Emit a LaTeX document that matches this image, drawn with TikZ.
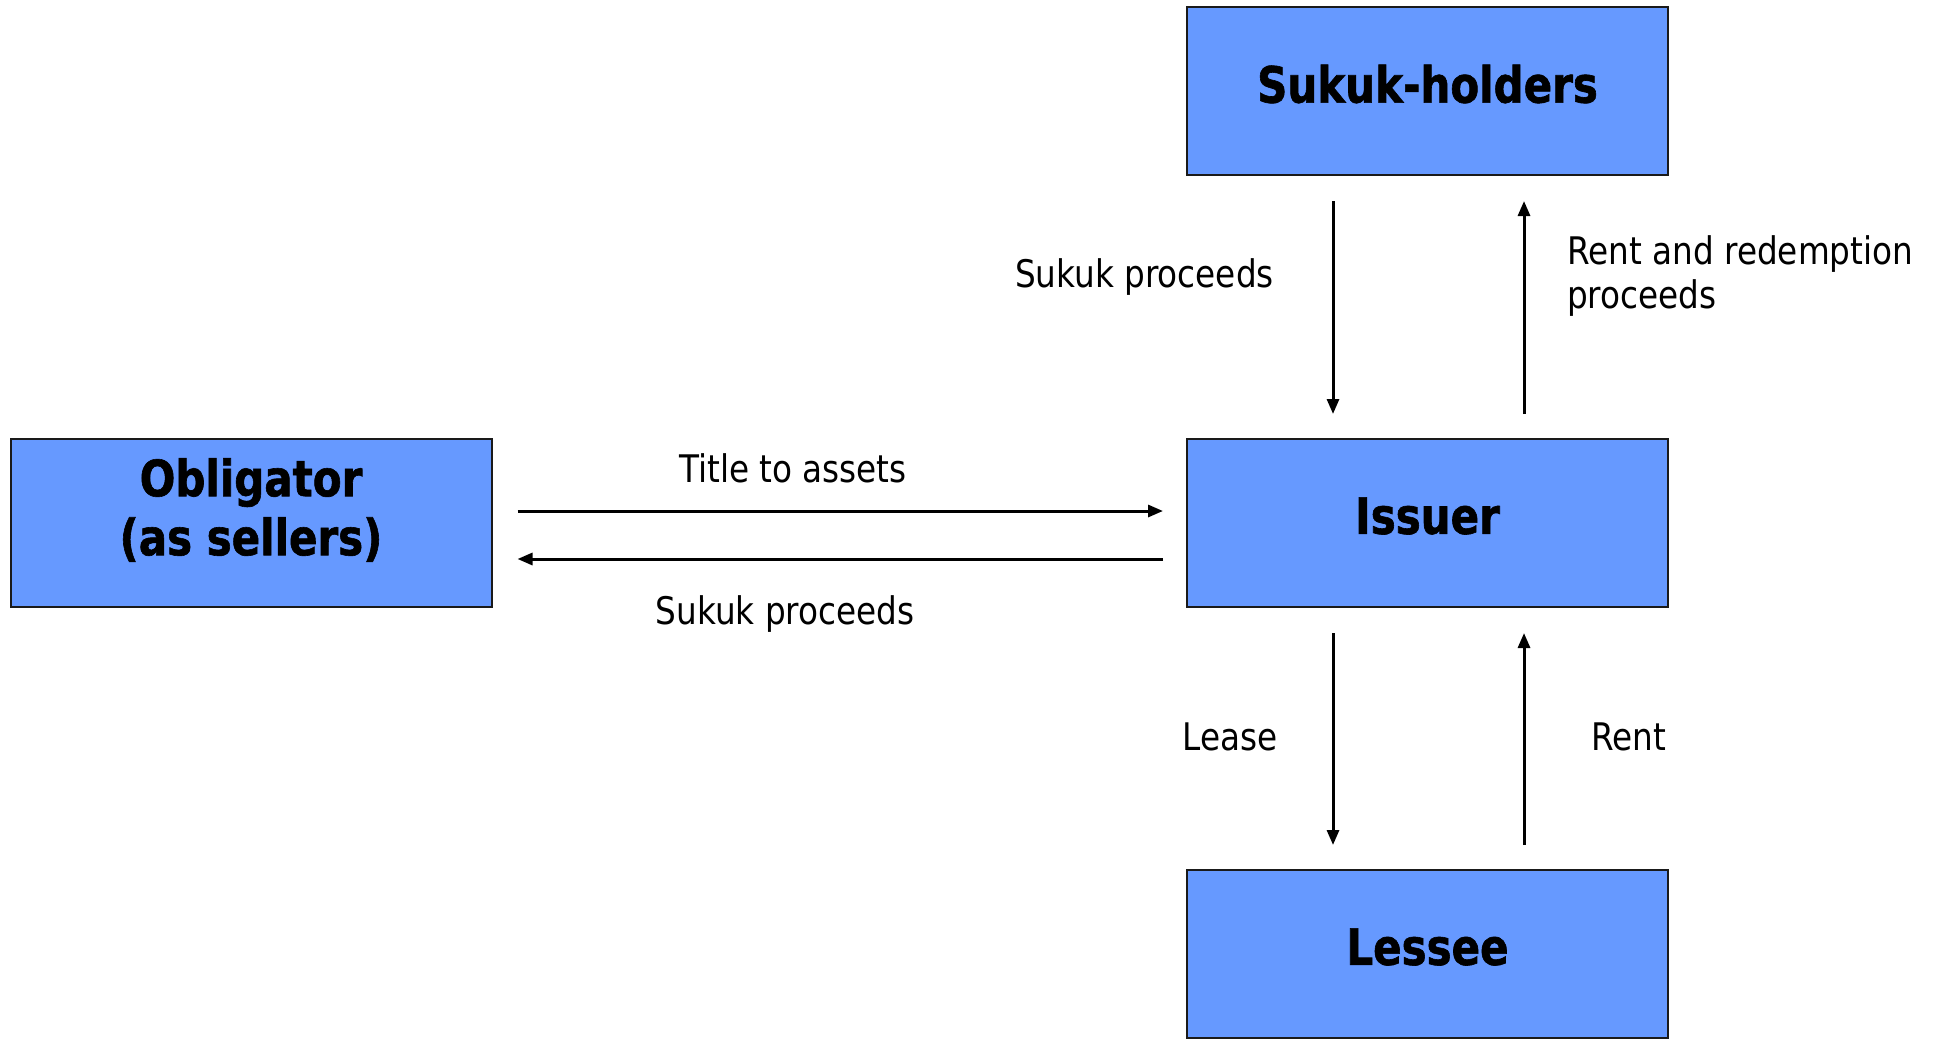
\documentclass[tikz,border=0pt]{standalone}
\usepackage{fontspec}
\usetikzlibrary{arrows.meta}
\newfontfamily\diagfont[FakeStretch=0.86]{DejaVu Sans}
\newfontfamily\boxfont[FakeStretch=0.84,FakeBold=1.2]{DejaVu Sans Bold}
\definecolor{boxblue}{HTML}{6699FF}
\definecolor{edge}{HTML}{1A1A1A}
\begin{document}
\begin{tikzpicture}[x=1pt,y=-1pt,
  box/.style={draw=edge, line width=2pt, fill=boxblue, minimum width=481pt, minimum height=168pt, inner sep=0pt},
  boxtext/.style={font=\boxfont\fontsize{50}{59}\selectfont, align=center, inner sep=0pt},
  lab/.style={font=\diagfont\fontsize{38}{44}\selectfont, inner sep=0pt},
  arr/.style={line width=3pt, -{Triangle[length=15pt,width=12pt]}}]
\useasboundingbox (0,0) rectangle (1935,1039);
\fill[white] (0,0) rectangle (1935,1039);

% boxes
\node[box] (holders) at (1427.5,91) {};
\node[box] (issuer) at (1427.5,523) {};
\node[box] (lessee) at (1427.5,954) {};
\node[box] (oblig) at (251,523) {};

\node[boxtext] (tholders) at ([yshift=7pt]holders.center) {Sukuk-holders};
\node[boxtext] (tissuer) at ([yshift=7pt]issuer.center) {Issuer};
\node[boxtext] (tlessee) at ([yshift=7pt]lessee.center) {Lessee};
\node[boxtext] (toblig) at ([yshift=13pt]oblig.center) {Obligator\\(as sellers)};

% flows between sukuk-holders and issuer
\draw[arr, shorten <=25pt, shorten >=24pt] ([xshift=-94.5pt]holders.south) -- ([xshift=-94.5pt]issuer.north);
\draw[arr, shorten <=24pt, shorten >=25pt] ([xshift=96.5pt]issuer.north) -- ([xshift=96.5pt]holders.south);

% flows between issuer and lessee
\draw[arr, shorten <=25pt, shorten >=24pt] ([xshift=-94.5pt]issuer.south) -- ([xshift=-94.5pt]lessee.north);
\draw[arr, shorten <=24pt, shorten >=25pt] ([xshift=96.5pt]lessee.north) -- ([xshift=96.5pt]issuer.south);

% flows between obligator and issuer
\draw[arr, shorten <=25pt, shorten >=23pt] ([yshift=12pt]oblig.east) -- ([yshift=12pt]issuer.west);
\draw[arr, shorten <=23pt, shorten >=25pt] ([yshift=-36pt]issuer.west) -- ([yshift=-36pt]oblig.east);

% labels
\node[lab, anchor=east] (l1) at (1274,277) {Sukuk proceeds};
\node[lab, anchor=west, align=left] (l2) at (1567,276) {Rent and redemption\\proceeds};
\node[lab] (l3) at (793,468) {Title to assets};
\node[lab] (l4) at (785,614) {Sukuk proceeds};
\node[lab] (l5) at (1230,737) {Lease};
\node[lab] (l6) at (1629,737) {Rent};
\end{tikzpicture}
\end{document}
